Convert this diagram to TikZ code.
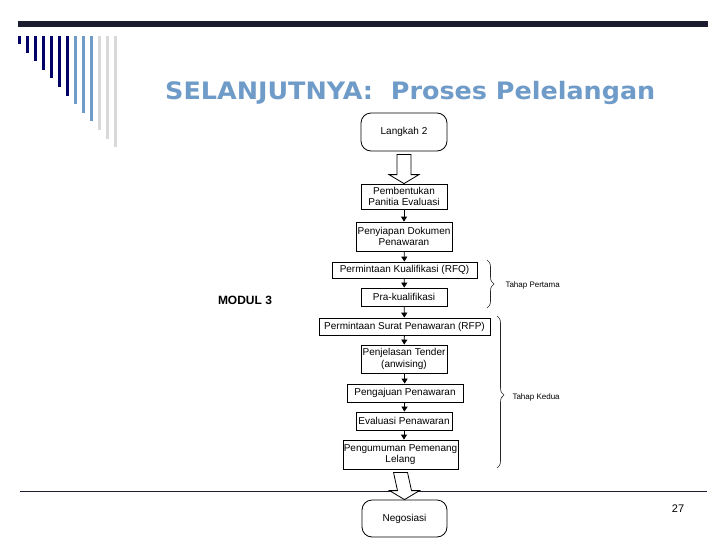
\documentclass[tikz,border=0pt]{standalone}
\usepackage{fontspec}
\setmainfont{Liberation Sans}
\newfontfamily\titlefont{DejaVu Sans}
\usetikzlibrary{arrows.meta,calc,decorations.pathreplacing}

\definecolor{navybar}{HTML}{000066}
\definecolor{steelblue}{HTML}{6F9BC8}
\definecolor{lightbar}{HTML}{D9D9D9}
\definecolor{topbar}{HTML}{1C1C30}

% hollow block arrow from the bottom of #1 to the top of #2
\newcommand{\bigarrow}[2]{%
  \draw[line width=0.8pt, fill=white]
    ($(#1.south)+(-7,3)$) -- ($(#1.south)+(7,3)$) -- ($(#2.north)+(7,-9)$)
    -- ($(#2.north)+(15,-9)$) -- (#2.north) -- ($(#2.north)+(-15,-9)$)
    -- ($(#2.north)+(-7,-9)$) -- cycle;}

\begin{document}
\begin{tikzpicture}[x=1pt,y=-1pt,
    box/.style={draw, line width=0.8pt, align=center, inner sep=0pt,
      font=\fontsize{10}{11.5}\selectfont},
    startbox/.style={box, rounded corners=10pt},
    flow/.style={-{Triangle[width=6pt,length=5pt]}, line width=0.8pt},
    bracket/.style={decorate, decoration={brace, amplitude=7pt}, line width=0.6pt, black!85}]
  \useasboundingbox[fill=white] (0,0) rectangle (728,546);

  % Slide frame: top bar, comb of bars, bottom rule
  \fill[topbar] (18,21) rectangle (708,27);
  \foreach \i in {0,...,6}
    \fill[navybar] ({17.5+8*\i},36) rectangle ({20.5+8*\i},{44+8.6*\i});
  \foreach \i in {7,8,9}
    \fill[steelblue] ({17.5+8*\i},36) rectangle ({20.5+8*\i},{44+8.6*\i});
  \foreach \i in {10,11,12}
    \fill[lightbar] ({17.5+8*\i},36) rectangle ({20.5+8*\i},{44+8.6*\i});
  \draw[line width=1.2pt, topbar] (20,491.5) -- (707,491.5);

  % Title and page number
  \node[anchor=base west, text=steelblue, inner sep=0pt,
    font=\titlefont\bfseries\fontsize{24}{28}\selectfont] (title) at (165,99)
    {\scalebox{1.06}[1]{SELANJUTNYA:~~Proses Pelelangan}};
  \node[font=\fontsize{11}{13}\selectfont] (pagenum) at (678,509) {27};
  \node[font=\bfseries\fontsize{12}{14}\selectfont] (modul) at (245,300) {MODUL 3};

  % Process steps
  \node[startbox, minimum width=86, minimum height=38] (langkah) at (404,132) {Langkah 2};
  \node[box, minimum width=86, minimum height=25] (panitia) at (404,196.5) {Pembentukan\\Panitia Evaluasi};
  \node[box, minimum width=96, minimum height=29] (dokumen) at (404,236.5) {Penyiapan Dokumen\\Penawaran};
  \node[box, minimum width=145, minimum height=16] (rfq) at (404.5,270) {Permintaan Kualifikasi (RFQ)};
  \node[box, minimum width=86, minimum height=18] (prakual) at (404,297) {Pra-kualifikasi};
  \node[box, minimum width=171, minimum height=17] (rfp) at (404.5,326.5) {Permintaan Surat Penawaran (RFP)};
  \node[box, minimum width=86, minimum height=28] (tender) at (404,359) {Penjelasan Tender\\(anwising)};
  \node[box, minimum width=116, minimum height=18] (pengajuan) at (405,393) {Pengajuan Penawaran};
  \node[box, minimum width=96, minimum height=18] (evaluasi) at (404,421) {Evaluasi Penawaran};
  \node[box, minimum width=115, minimum height=29] (pemenang) at (400.5,454.5) {Pengumuman Pemenang\\Lelang};
  \node[startbox, minimum width=85, minimum height=37] (negosiasi) at (404.5,518.5) {Negosiasi};

  % Connectors
  \bigarrow{langkah}{panitia}
  \draw[flow] (panitia) -- (dokumen);
  \draw[flow] (dokumen) -- (rfq);
  \draw[flow] (rfq) -- (prakual);
  \draw[flow] (prakual) -- (rfp);
  \draw[flow] (rfp) -- (tender);
  \draw[flow] (tender) -- (pengajuan);
  \draw[flow] (pengajuan) -- (evaluasi);
  \draw[flow] (evaluasi.south) -- (evaluasi.south |- pemenang.north);
  \bigarrow{pemenang}{negosiasi}

  % Stage braces
  \coordinate (pertamatop) at (487,260);
  \coordinate (pertamabot) at (487,308);
  \draw[bracket] (pertamatop) -- (pertamabot);
  \node[anchor=west, font=\fontsize{8}{9}\selectfont] (pertama) at (502,285) {Tahap Pertama};
  \coordinate (keduatop) at (497,316);
  \coordinate (keduabot) at (497,468);
  \draw[bracket, decoration={aspect=0.52}] (keduatop) -- (keduabot);
  \node[anchor=west, font=\fontsize{8}{9}\selectfont] (kedua) at (509,397) {Tahap Kedua};
\end{tikzpicture}
\end{document}
